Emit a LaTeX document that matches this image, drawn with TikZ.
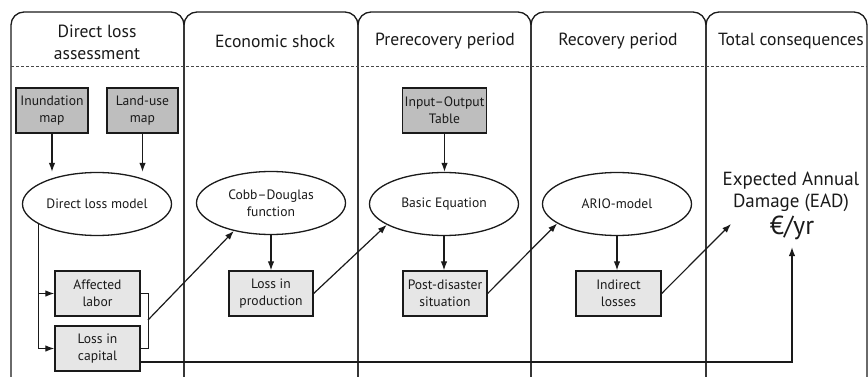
\documentclass[tikz,border=0pt]{standalone}
\usepackage{fontspec}
\setmainfont{PT Sans}
\usetikzlibrary{shapes.geometric,arrows.meta,calc}
\definecolor{ink}{HTML}{1A1A1A}
\definecolor{dgray}{HTML}{BEBEBE}
\definecolor{lgray}{HTML}{E6E6E6}
\begin{document}
\begin{tikzpicture}[x=1pt,y=-1pt,
 col/.style={draw=ink,line width=1.3pt,rounded corners=13pt},
 dbox/.style={draw=ink,line width=1.3pt,fill=dgray,minimum height=45pt,inner sep=1pt,align=center,font=\fontsize{13.6}{17}\selectfont,text=ink},
 lbox/.style={dbox,fill=lgray},
 ell/.style={draw=ink,line width=1.3pt,ellipse,minimum width=149pt,minimum height=63pt,inner sep=0pt,align=center,font=\fontsize{13.6}{17}\selectfont,text=ink},
 arr/.style={draw=ink,line width=1.2pt,-{Latex[length=9pt,width=6.5pt]}},
 ln/.style={draw=ink,line width=1.2pt},
 head/.style={font=\fontsize{17.6}{22}\selectfont,align=center,text=ink}
]
\useasboundingbox (0,0) rectangle (868,377);
\clip (0,0) rectangle (868,377);
% columns
\draw[col] (11,12) rectangle (184,395);
\draw[col] (184,12) rectangle (358,395);
\draw[col] (358,12) rectangle (531,395);
\draw[col] (531,12) rectangle (706,395);
\draw[col] (706,12) rectangle (867,395);
\draw[ink!80,line width=0.6pt,dash pattern=on 3pt off 2pt] (11,66) -- (867,66);
% headers
\node[head] (h1) at (97,42) {Direct loss\\assessment};
\node[head] (h2) at (275,41) {Economic shock};
\node[head] (h3) at (445,41) {Prerecovery period};
\node[head] (h4) at (618,41) {Recovery period};
\node[head] (h5) at (791,41) {Total consequences};
% input boxes
\node[dbox,minimum width=72pt] (inu) at (52,110.5) {Inundation\\map};
\node[dbox,minimum width=71pt] (lu) at (142.5,110.5) {Land-use\\map};
\node[dbox,minimum width=84pt] (io) at (444.5,110.5) {Input–Output\\Table};
% ellipses
\node[ell] (dlm) at (97,204) {Direct loss model};
\node[ell] (cd) at (271,203) {Cobb–Douglas\\function};
\node[ell] (be) at (444,204) {Basic Equation};
\node[ell] (ario) at (617,204) {ARIO-model};
% result boxes
\node[lbox,minimum width=85pt] (al) at (97.5,293.5) {Affected\\labor};
\node[lbox,minimum width=85pt] (lc) at (97.5,348.5) {Loss in\\capital};
\node[lbox,minimum width=84pt] (lp) at (271,293.5) {Loss in\\production};
\node[lbox,minimum width=84pt] (pd) at (445,293.5) {Post-disaster\\situation};
\node[lbox,minimum width=85pt] (il) at (618.5,293.5) {Indirect\\losses};
% EAD
\node[align=center,font=\fontsize{19}{21.5}\selectfont,text=ink] (ead) at (791,192) {Expected Annual\\Damage (EAD)};
\node[font=\fontsize{26}{28}\selectfont,text=ink,inner sep=2pt] (eur) at (792,228) {€/yr};
% connectors
\draw[arr] (inu) -- (inu |- dlm.north);
\draw[arr] (lu) -- (lu |- dlm.north);
\draw[arr] (dlm.199) |- (al.west);
\draw[arr] (dlm.199) |- (lc.west);
\draw[ln] (al.east) -- ++(8,0) |- (lc.east);
\coordinate (brk) at (148,320);
\draw[arr] (brk) -- (cd.217);
\draw[arr] (cd) -- (cd |- lp.north);
\draw[arr] (lp.east) -- (be.200);
\draw[arr] (io) -- (io |- be.north);
\draw[arr] (be) -- (be |- pd.north);
\draw[arr] (pd.east) -- (ario.198);
\draw[arr] (ario) -- (ario |- il.north);
\coordinate (eadin) at (731,224);
\draw[arr] (il.east) -- (eadin);
\draw[arr] ([yshift=-13.5pt]lc.east) -| ([yshift=-5pt]eur.south);
\end{tikzpicture}
\end{document}
